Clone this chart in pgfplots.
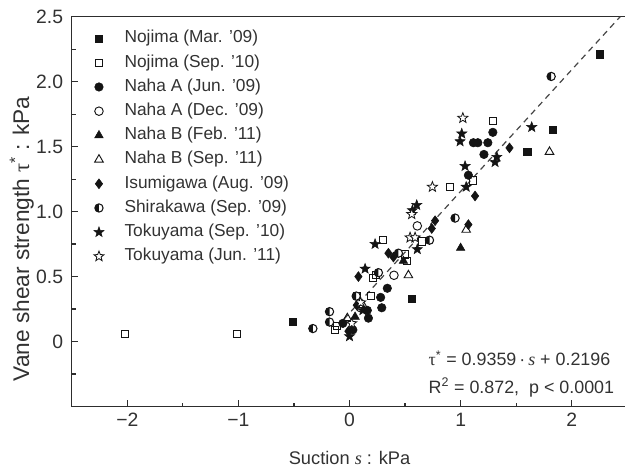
\documentclass[border=0pt]{standalone}
\usepackage{pgfplots}
\pgfplotsset{compat=1.18}
\usepackage{fontspec}
\setmainfont{Liberation Sans}
\newfontfamily\serif{Liberation Serif}
\definecolor{axgray}{RGB}{45,45,45}
\definecolor{txtgray}{RGB}{50,50,50}
\definecolor{mk}{RGB}{20,20,20}
\definecolor{lngray}{RGB}{70,70,70}

\pgfdeclareplotmark{halfcirc}{%
  \pgfpathcircle{\pgfpointorigin}{\pgfplotmarksize}%
  \pgfsetfillcolor{white}%
  \pgfusepathqfill
  \pgfpathmoveto{\pgfpoint{0pt}{\pgfplotmarksize}}%
  \pgfpatharc{90}{270}{\pgfplotmarksize}%
  \pgfpathclose
  \pgfsetfillcolor{mk}%
  \pgfusepathqfill
  \pgfpathcircle{\pgfpointorigin}{\pgfplotmarksize}%
  \pgfusepathqstroke
}
\pgfdeclareplotmark{fstar}{%
  \pgfpathmoveto{\pgfpointpolar{90}{\pgfplotmarksize}}%
  \pgfpathlineto{\pgfpointpolar{126}{0.42\pgfplotmarksize}}%
  \pgfpathlineto{\pgfpointpolar{162}{\pgfplotmarksize}}%
  \pgfpathlineto{\pgfpointpolar{198}{0.42\pgfplotmarksize}}%
  \pgfpathlineto{\pgfpointpolar{234}{\pgfplotmarksize}}%
  \pgfpathlineto{\pgfpointpolar{270}{0.42\pgfplotmarksize}}%
  \pgfpathlineto{\pgfpointpolar{306}{\pgfplotmarksize}}%
  \pgfpathlineto{\pgfpointpolar{342}{0.42\pgfplotmarksize}}%
  \pgfpathlineto{\pgfpointpolar{18}{\pgfplotmarksize}}%
  \pgfpathlineto{\pgfpointpolar{54}{0.42\pgfplotmarksize}}%
  \pgfpathclose
  \pgfusepathqfillstroke
}

\pgfplotstableread{
s t
-0.51 0.15
0.56 0.33
1.60 1.46
1.83 1.63
2.25 2.21
}\NojimaMar
\pgfplotstableread{
s t
-2.02 0.06
-1.01 0.06
-0.13 0.09
-0.11 0.12
0.07 0.35
0.19 0.35
0.21 0.49
0.24 0.51
0.30 0.78
0.50 0.67
0.52 0.62
0.65 0.77
0.905 1.19
1.11 1.24
1.29 1.70
}\NojimaSep
\pgfplotstableread{
s t
-0.06 0.14
0.03 0.09
0.17 0.18
0.16 0.24
0.29 0.26
0.28 0.34
0.34 0.41
1.07 1.28
1.21 1.44
1.115 1.53
1.155 1.53
1.245 1.53
1.29 1.61
}\NahaAJun
\pgfplotstableread{
s t
0.10 0.26
0.40 0.51
0.61 0.89
}\NahaADec
\pgfplotstableread{
s t
0.05 0.19
0.485 0.62
1.00 0.72
}\NahaBFeb
\pgfplotstableread{
s t
-0.02 0.18
0.12 0.28
0.53 0.51
1.05 0.86
1.80 1.46
}\NahaBSep
\pgfplotstableread{
s t
-0.01 0.08
0.065 0.28
0.08 0.50
0.35 0.68
0.395 0.65
0.74 0.87
0.77 0.93
1.07 0.90
1.13 1.12
1.44 1.49
}\Isumigawa
\pgfplotstableread{
s t
-0.33 0.10
-0.18 0.15
-0.18 0.23
0.06 0.35
0.26 0.53
0.44 0.68
0.72 0.78
0.95 0.95
1.815 2.04
}\Shirakawa
\pgfplotstableread{
s t
0.00 0.04
0.12 0.24
0.14 0.56
0.23 0.75
0.61 0.71
0.566 1.01
0.605 1.05
1.05 1.19
1.04 1.35
1.31 1.38
1.326 1.42
0.995 1.54
1.01 1.60
1.64 1.65
}\TokuyamaSep
\pgfplotstableread{
s t
0.02 0.14
0.10 0.30
0.545 0.80
0.59 0.80
0.56 0.98
0.746 1.19
1.02 1.72
}\TokuyamaJun

\begin{document}
\begin{tikzpicture}
\begin{axis}[
  scale only axis, width=416.6pt, height=292.4pt,
  xmin=-2.5, xmax=2.5, ymin=-0.5, ymax=2.5,
  axis line style={axgray, line width=0.9pt},
  every tick/.style={axgray, line width=0.9pt},
  major tick length=5pt, minor tick length=3pt,
  tick align=inside, xtick pos=bottom, ytick pos=left,
  xtick={-2,-1,0,1,2}, xticklabels={−2,−1,0,1,2},
  minor xtick={-1.5,-0.5,0.5,1.5},
  ytick={0,0.5,1,1.5,2,2.5}, yticklabels={0,0.5,1.0,1.5,2.0,2.5},
  minor ytick={-0.25,0.25,0.75,1.25,1.75,2.25},
  tick label style={font=\fontsize{14.5}{16}\selectfont, text=txtgray},
  xticklabel style={yshift=-1.5pt},
  yticklabel style={xshift=-3pt},
  xlabel={Suction {\serif\itshape s} : kPa},
  ylabel={Vane shear strength {\serif τ}\textsuperscript{*} : kPa},
  xlabel style={font=\fontsize{13.7}{15}\selectfont, text=txtgray, at={(axis description cs:0.5,-0.133)}, anchor=center},
  ylabel style={font=\fontsize{17}{19}\selectfont, text=txtgray, at={(axis description cs:-0.09,0.43)}, anchor=center},
  legend style={draw=none, fill=none, at={(rel axis cs:0.027,0.965)}, anchor=north west,
    inner sep=0pt, row sep=6.15pt, font=\fontsize{13}{15}\selectfont, text=txtgray,
    nodes={inner sep=0pt, text height=9.3pt, text depth=2.7pt}},
  legend cell align=left,
  legend image code/.code={\draw plot coordinates {(0.3cm,0cm)}; \path (0cm,0cm) (0.96cm,0cm);},
  mark size=3pt,
]
\addplot[lngray, dash pattern=on 4.5pt off 3.5pt, line width=0.9pt, forget plot] coordinates {(-0.05,0.1728) (2.4366,2.5)};
\addplot[only marks, mark=square*, mark size=2.7pt, draw=mk, fill=mk] table[x=s,y=t] {\NojimaMar};
\addlegendentry{Nojima (Mar. '09)}
\addplot[only marks, mark=square, mark size=2.7pt, draw=mk, line width=0.7pt, mark options={fill=white}] table[x=s,y=t] {\NojimaSep};
\addlegendentry{Nojima (Sep. '10)}
\addplot[only marks, mark=*, mark size=3.2pt, draw=mk, fill=mk] table[x=s,y=t] {\NahaAJun};
\addlegendentry{Naha A (Jun. '09)}
\addplot[only marks, mark=o, mark size=3.2pt, draw=mk, line width=0.7pt, mark options={fill=white}] table[x=s,y=t] {\NahaADec};
\addlegendentry{Naha A (Dec. '09)}
\addplot[only marks, mark=triangle*, mark size=3.7pt, draw=mk, fill=mk] table[x=s,y=t] {\NahaBFeb};
\addlegendentry{Naha B (Feb. '11)}
\addplot[only marks, mark=triangle, mark size=3.7pt, draw=mk, line width=0.7pt, mark options={fill=white}] table[x=s,y=t] {\NahaBSep};
\addlegendentry{Naha B (Sep. '11)}
\addplot[only marks, mark=diamond*, mark size=3.7pt, draw=mk, fill=mk] table[x=s,y=t] {\Isumigawa};
\addlegendentry{Isumigawa (Aug. '09)}
\addplot[only marks, mark=halfcirc, mark size=3.1pt, draw=mk, line width=0.8pt] table[x=s,y=t] {\Shirakawa};
\addlegendentry{Shirakawa (Sep. '09)}
\addplot[only marks, mark=fstar, mark size=4pt, draw=mk, fill=mk, line width=0.4pt, mark options={fill=mk}] table[x=s,y=t] {\TokuyamaSep};
\addlegendentry{Tokuyama (Sep. '10)}
\addplot[only marks, mark=fstar, mark size=4pt, draw=mk, line width=0.6pt, mark options={fill=white}] table[x=s,y=t] {\TokuyamaJun};
\addlegendentry{Tokuyama (Jun. '11)}
\node[anchor=base west, font=\fontsize{13.4}{15}\selectfont, text=txtgray, inner sep=0pt] at (rel axis cs:0.642,0.104) {{\serif τ}\textsuperscript{*} = 0.9359\,·\,{\serif\itshape s} + 0.2196};
\node[anchor=base west, font=\fontsize{13.4}{15}\selectfont, text=txtgray, inner sep=0pt] at (rel axis cs:0.642,0.0346) {R\textsuperscript{2} = 0.872,\ \ p < 0.0001};
\end{axis}
\pgfresetboundingbox
\path[use as bounding box] (-53.85pt,-48.4pt) rectangle (414.9pt,304.9pt);
\end{tikzpicture}
\end{document}
